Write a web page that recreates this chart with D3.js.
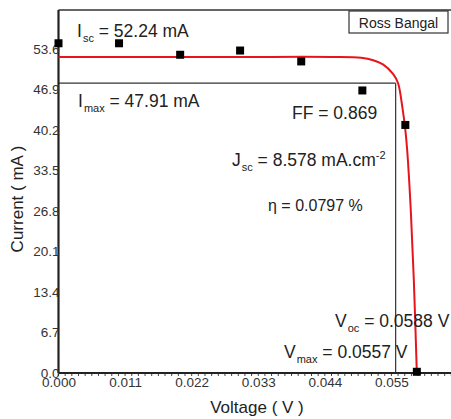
<!DOCTYPE html>
<html><head><meta charset="utf-8">
<script src="https://cdn.jsdelivr.net/npm/d3@7"></script>
<style>
body{margin:0;background:#fff;}
text{font-family:"Liberation Sans",Arial,sans-serif;fill:#222;}
</style></head>
<body><svg id="c" width="451" height="419"></svg>
<script>
const xTicks = [0.000, 0.011, 0.022, 0.033, 0.044, 0.055];
const yTicks = [0.0, 6.7, 13.4, 20.1, 26.8, 33.5, 40.2, 46.9, 53.6];
const measV = [0.0000, 0.0100, 0.0201, 0.0300, 0.0401, 0.0502, 0.0573, 0.0592];
const measI = [54.5, 54.5, 52.6, 53.3, 51.5, 46.7, 41.0, 0.2];
const fitV = [0.0000, 0.0150, 0.0300, 0.0450, 0.0500, 0.0520, 0.0536, 0.0553, 0.0561, 0.0568, 0.0573, 0.0576, 0.0582, 0.0587, 0.0592];
const fitI = [52.24, 52.24, 52.24, 52.24, 52.1, 51.7, 51.0, 49.4, 47.9, 44.0, 40.2, 36.9, 26.9, 15.4, 0.0];
const Imax = 47.91, Vmax = 0.0557;

const svg = d3.select("#c");
const x = d3.scaleLinear().domain([0, 0.066]).range([58.5, 458]);
const y = d3.scaleLinear().domain([0, 60]).range([373, 10]);

svg.append("line").attr("x1", x(0)).attr("x2", 451).attr("y1", y(60)).attr("y2", y(60))
  .attr("stroke", "#333").attr("stroke-width", 1.5);

svg.append("line").attr("x1", x(0)).attr("x2", x(Vmax)).attr("y1", y(Imax)).attr("y2", y(Imax))
  .attr("stroke", "#333").attr("stroke-width", 1.2);
svg.append("line").attr("x1", x(Vmax)).attr("x2", x(Vmax)).attr("y1", y(Imax)).attr("y2", y(0))
  .attr("stroke", "#333").attr("stroke-width", 1.2);

const xAxis = d3.axisBottom(x).tickValues(xTicks).tickFormat(d3.format(".3f")).tickSize(0).tickPadding(4);
const gx = svg.append("g").attr("transform", `translate(0,${y(0)})`).call(xAxis);
gx.select(".domain").attr("stroke", "#222").attr("stroke-width", 2.2).attr("d", `M${x(0)},0H451`);
gx.selectAll("text").attr("font-size", 13.5).style("fill", "#333");
const minor = d3.range(0, 0.0661, 0.0011);
svg.append("g").selectAll("line").data(minor).join("line")
  .attr("x1", d => x(d)).attr("x2", d => x(d)).attr("y1", y(0) + 1).attr("y2", y(0) + 3)
  .attr("stroke", "#444").attr("stroke-width", 1);

const yAxis = d3.axisLeft(y).tickValues(yTicks).tickFormat(d3.format(".1f")).tickSize(0).tickPadding(-1);
const gy = svg.append("g").attr("transform", `translate(${x(0)},0)`).call(yAxis);
gy.select(".domain").attr("stroke", "#222").attr("stroke-width", 2.2).attr("d", `M0,${y(0)}V${y(60)}`);
gy.selectAll("text").attr("font-size", 13.5).style("fill", "#333");

const fit = fitV.map((v, i) => [v, fitI[i]]);
svg.append("path").datum(fit)
  .attr("d", d3.line().x(d => x(d[0])).y(d => y(d[1])).curve(d3.curveCatmullRom.alpha(0.5)))
  .attr("fill", "none").attr("stroke", "#e8141b").attr("stroke-width", 2);

const meas = measV.map((v, i) => [v, measI[i]]);
svg.append("g").selectAll("rect").data(meas).join("rect")
  .attr("x", d => x(d[0]) - 4).attr("y", d => y(d[1]) - 4).attr("width", 8).attr("height", 8)
  .attr("fill", "#000");

svg.append("rect").attr("x", 349).attr("y", 11).attr("width", 99).attr("height", 22)
  .attr("fill", "#fff").attr("stroke", "#333").attr("stroke-width", 1.2);
svg.append("text").attr("x", 398.5).attr("y", 27.5).attr("text-anchor", "middle").attr("font-size", 14).text("Ross Bangal");

function sub(x0, y0, main, subt, rest, fs, subfs) {
  const t = svg.append("text").attr("x", x0).attr("y", y0).attr("font-size", fs);
  t.append("tspan").text(main);
  t.append("tspan").attr("font-size", subfs).attr("dx", 1).attr("dy", 5).text(subt);
  t.append("tspan").attr("dy", -5).text(rest);
  return t;
}
sub(77, 37, "I", "sc", " = 52.24 mA", 17.5, 11);
sub(78, 107, "I", "max", " = 47.91 mA", 17.5, 11);
svg.append("text").attr("x", 292).attr("y", 119).attr("font-size", 17.5).text("FF = 0.869");
const j = sub(232, 166, "J", "sc", " = 8.578 mA.cm", 17.5, 11);
j.append("tspan").attr("font-size", 11).attr("dy", -7).text("-2");
svg.append("text").attr("x", 268).attr("y", 211).attr("font-size", 16)
  .attr("font-family", "Liberation Serif, Times New Roman, serif").text("η = 0.0797 %");
sub(335, 327, "V", "oc", " = 0.0588 V", 17.5, 11);
sub(284, 358, "V", "max", " = 0.0557 V", 17.5, 11);

svg.append("text").attr("x", 257).attr("y", 413).attr("text-anchor", "middle").attr("font-size", 17).text("Voltage ( V )");
svg.append("text").attr("transform", "translate(23,199) rotate(-90)").attr("text-anchor", "middle")
  .attr("font-size", 17).text("Current ( mA )");
</script></body></html>
